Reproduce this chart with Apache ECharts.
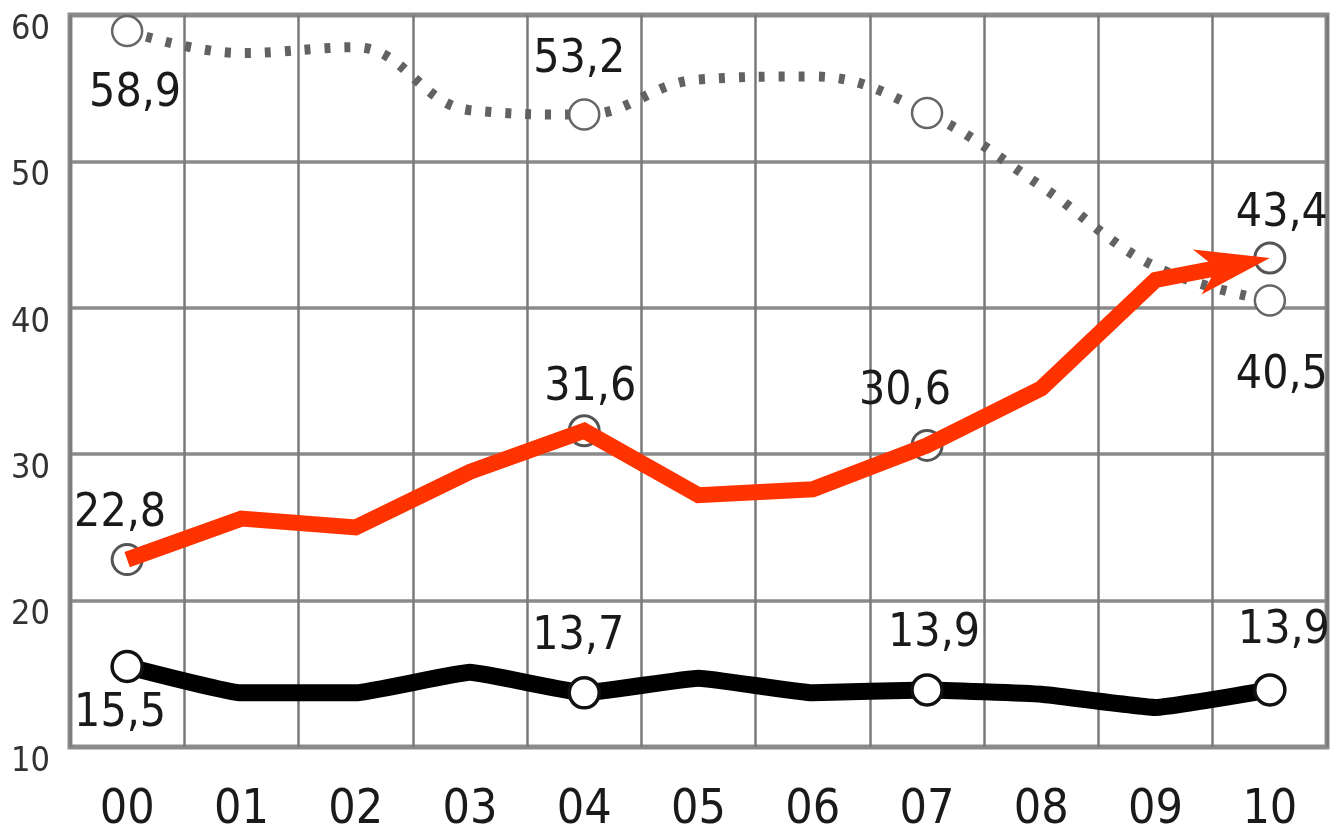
<!DOCTYPE html>
<html>
<head>
<meta charset="utf-8">
<script src="https://cdn.jsdelivr.net/npm/echarts@6/dist/echarts.min.js"></script>
<style>
  html, body { margin: 0; padding: 0; background: #ffffff; }
  #chart { width: 1332px; height: 837px; }
</style>
</head>
<body>
<div id="chart"></div>
<script>
// Years 2000-2010, shown as two-digit labels
const years = ['00', '01', '02', '03', '04', '05', '06', '07', '08', '09', '10'];

// Three series, percent
const grayValues  = [58.9, 57.4, 57.8, 53.5, 53.2, 55.6, 55.8, 53.3, 48.3, 42.8, 40.5];
const redValues   = [22.8, 25.6, 25.0, 28.8, 31.6, 27.2, 27.6, 30.6, 34.5, 41.9, 43.4];
const blackValues = [15.5, 13.7, 13.7, 15.1, 13.7, 14.7, 13.7, 13.9, 13.6, 12.7, 13.9];

// Value axis range
const yMin = 10, yMax = 60, yStep = 10;

// Years that carry a circle marker
const markedYears = [0, 4, 7, 10];

const FONT = "'DejaVu Sans Condensed', 'DejaVu Sans', sans-serif";
const RED = '#ff3300';

// Label placement per series: index -> [position, distance, dx]
const grayLabels  = { 0: ['bottom', 24, 8], 4: ['top', 15, -5], 10: ['bottom', 36, 12] };
const redLabels   = { 0: ['top', 6, -7], 4: ['top', 3, 6], 7: ['top', 14, -22], 10: ['top', 4, 12] };
const blackLabels = { 0: ['bottom', 8, -7], 4: ['top', 16, -6], 7: ['top', 16, 7], 10: ['top', 19, 14] };

const fmt = v => v.toFixed(1).replace('.', ',');

function labelFor(place) {
  return {
    show: true,
    position: place[0],
    distance: place[1],
    offset: [place[2], 0],
    fontFamily: FONT,
    fontSize: 46,
    color: '#1a1a1a',
    formatter: p => fmt(Array.isArray(p.value) ? p.value[1] : p.value)
  };
}

function lineItems(values, labels) {
  return values.map((v, i) => {
    const item = { value: v, symbol: markedYears.includes(i) ? 'circle' : 'none' };
    if (labels[i]) item.label = labelFor(labels[i]);
    return item;
  });
}

const redMarkerItems = markedYears.map(i => {
  const item = { value: [i, redValues[i]] };
  if (redLabels[i]) item.label = labelFor(redLabels[i]);
  return item;
});

// Red trend: one thick polyline through every year, ending in an arrowhead
function renderRed(params, api) {
  const last = redValues.length - 1;
  if (params.dataIndex !== last) return null;
  const pts = redValues.map((v, i) => api.coord([i, v]));
  const tip = pts[last];
  const prev = pts[last - 1];
  const len = Math.hypot(tip[0] - prev[0], tip[1] - prev[1]);
  const ux = (tip[0] - prev[0]) / len, uy = (tip[1] - prev[1]) / len;
  const nx = -uy, ny = ux;
  const L = 74, W = 23, N = 20;
  const shaftEnd = [tip[0] - ux * (L - N - 4), tip[1] - uy * (L - N - 4)];
  const linePts = pts.slice(0, last).concat([shaftEnd]);
  const back = [tip[0] - ux * L, tip[1] - uy * L];
  const notch = [tip[0] - ux * (L - N), tip[1] - uy * (L - N)];
  return {
    type: 'group',
    children: [
      {
        type: 'polyline',
        shape: { points: linePts },
        style: { stroke: RED, lineWidth: 16, fill: null, lineJoin: 'miter', lineCap: 'butt' }
      },
      {
        type: 'polygon',
        shape: { points: [
          tip,
          [back[0] + nx * W, back[1] + ny * W],
          notch,
          [back[0] - nx * W, back[1] - ny * W]
        ] },
        style: { fill: RED }
      }
    ]
  };
}

const chart = echarts.init(document.getElementById('chart'), null, { renderer: 'canvas' });

chart.setOption({
  animation: false,
  backgroundColor: '#ffffff',
  grid: {
    left: 70, right: 5, top: 15, bottom: 90,
    show: true, borderColor: '#8e8e8e', borderWidth: 5, backgroundColor: '#ffffff'
  },
  xAxis: {
    type: 'category',
    data: years,
    boundaryGap: true,
    axisLine: { show: false },
    axisTick: { show: false },
    axisLabel: { fontFamily: FONT, fontSize: 48, color: '#1a1a1a', margin: 40 },
    splitLine: { show: true, lineStyle: { color: '#7a7a7a', width: 2.5 } }
  },
  yAxis: {
    type: 'value',
    min: yMin, max: yMax, interval: yStep,
    axisLine: { show: false },
    axisTick: { show: false },
    axisLabel: {
      fontFamily: FONT, fontSize: 34, color: '#333333', margin: 20,
      verticalAlign: 'top', lineHeight: 30
    },
    splitLine: { show: true, lineStyle: { color: '#8a8a8a', width: 3.5 } }
  },
  series: [
    {
      name: 'gray',
      type: 'line',
      z: 2,
      smooth: 0.4,
      data: lineItems(grayValues, grayLabels),
      symbolSize: 30,
      lineStyle: { color: '#626262', width: 10, type: [6, 14], cap: 'butt' },
      itemStyle: { color: '#ffffff', borderColor: '#666666', borderWidth: 2.5 },
      emphasis: { disabled: true }
    },
    {
      name: 'red markers',
      type: 'scatter',
      z: 3,
      data: redMarkerItems,
      symbol: 'circle',
      symbolSize: 30,
      itemStyle: { color: '#ffffff', borderColor: '#555555', borderWidth: 3, opacity: 1 },
      emphasis: { disabled: true }
    },
    {
      name: 'red',
      type: 'custom',
      z: 4,
      coordinateSystem: 'cartesian2d',
      data: redValues.map((v, i) => [i, v]),
      renderItem: renderRed,
      emphasis: { disabled: true }
    },
    {
      name: 'black',
      type: 'line',
      z: 5,
      smooth: 0.1,
      data: lineItems(blackValues, blackLabels),
      symbolSize: 30,
      lineStyle: { color: '#000000', width: 17 },
      itemStyle: { color: '#ffffff', borderColor: '#111111', borderWidth: 3.5 },
      emphasis: { disabled: true }
    }
  ]
});
</script>
</body>
</html>
